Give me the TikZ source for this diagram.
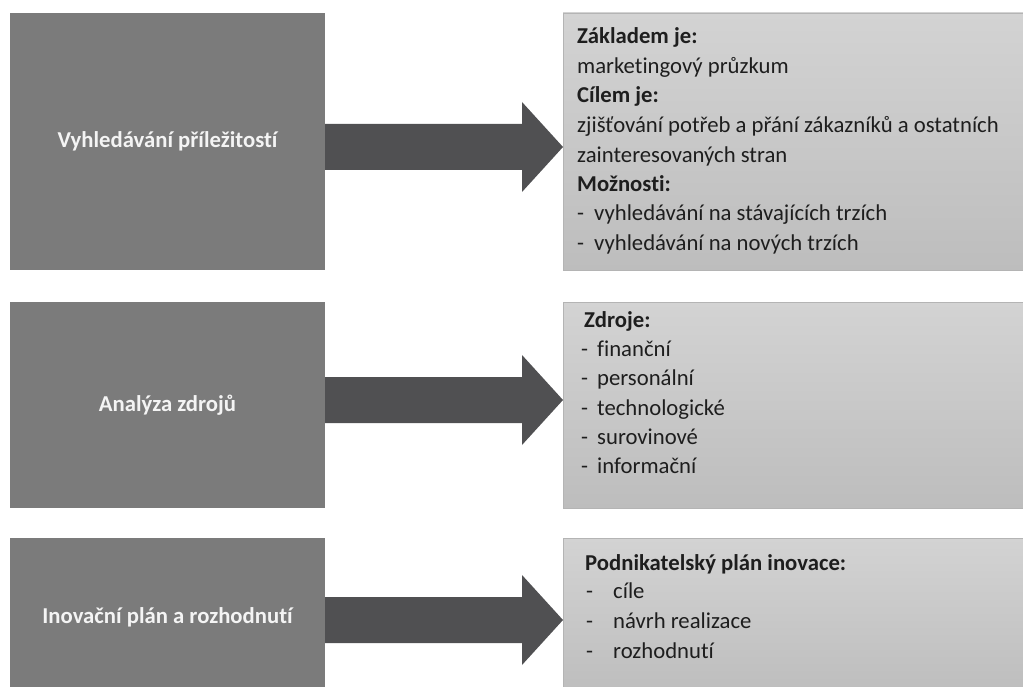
\documentclass[tikz,border=0pt]{standalone}
\usepackage{fontspec}
\setmainfont{Carlito}[Ligatures={NoCommon}]
\usetikzlibrary{calc}

\definecolor{stagefill}{HTML}{7B7B7B}
\definecolor{stageink}{HTML}{F4F4F4}
\definecolor{arrowfill}{HTML}{505052}
\definecolor{notetop}{HTML}{D3D3D3}
\definecolor{notebottom}{HTML}{BDBDBD}
\definecolor{noteedge}{HTML}{B4B4B4}
\definecolor{ink}{HTML}{1E1E1E}

% block arrow from a start point on the left box to a tip on the right box
\newcommand{\fatarrow}[2]{%
  \fill[arrowfill]
    ($(#1)+(0,-23)$) -- ($(#2)+(-41,-23)$) -- ($(#2)+(-41,-45)$) --
    (#2) --
    ($(#2)+(-41,45)$) -- ($(#2)+(-41,23)$) -- ($(#1)+(0,23)$) -- cycle;}

\begin{document}
\begin{tikzpicture}[x=1pt,y=-1pt,
  stage/.style={fill=stagefill, minimum width=315pt, inner sep=0pt, outer sep=0pt,
    text=stageink, font=\bfseries\fontsize{22.7}{27}\selectfont},
  note/.style={top color=notetop, bottom color=notebottom, draw=noteedge,
    line width=0.8pt, minimum width=467pt, inner sep=0pt, outer sep=0pt},
  txt/.style={anchor=base west, inner sep=0pt, text=ink,
    font=\fontsize{22.7}{27}\selectfont},
  hd/.style={txt, font=\bfseries\fontsize{22.7}{27}\selectfont}]

\useasboundingbox (0,0) rectangle (1023,687);
\clip (0,0) rectangle (1023,687);
\fill[white] (0,0) rectangle (1023,687);

% left column: stages
\node[stage, minimum height=257pt] (l1) at (167.5,141.5) {Vyhledávání příležitostí};
\node[stage, minimum height=206pt] (l2) at (167.5,405) {Analýza zdrojů};
\node[stage, minimum height=158pt] (l3) at (167.5,617) {Inovační plán a rozhodnutí};

% right column: detail boxes
\node[note, minimum height=257pt] (r1) at (796.5,141.5) {};
\node[note, minimum height=206pt] (r2) at (796.5,405) {};
\node[note, minimum height=158pt] (r3) at (796.5,617) {};

% arrows between the columns
\coordinate (s1) at (l1.east |- 0,147);  \coordinate (t1) at (r1.west |- 0,147);
\coordinate (s2) at (l2.east |- 0,400);  \coordinate (t2) at (r2.west |- 0,400);
\coordinate (s3) at (l3.east |- 0,620);  \coordinate (t3) at (r3.west |- 0,620);
\fatarrow{s1}{t1}
\fatarrow{s2}{t2}
\fatarrow{s3}{t3}

% texts of the first detail box
\node[hd]  (a1) at (577,44)  {Základem je:};
\node[txt] (a2) at (577,74)  {marketingový průzkum};
\node[hd]  (a3) at (577,103) {Cílem je:};
\node[txt] (a4) at (577,133) {zjišťování potřeb a přání zákazníků a ostatních};
\node[txt] (a5) at (577,163) {zainteresovaných stran};
\node[hd]  (a6) at (577,192) {Možnosti:};
\node[txt] (a7) at (577,221) {-};
\node[txt] (a8) at (594,221) {vyhledávání na stávajících trzích};
\node[txt] (a9) at (577,251) {-};
\node[txt] (a10) at (594,251) {vyhledávání na nových trzích};

% texts of the second detail box
\node[hd]  (b1) at (584,327) {Zdroje:};
\foreach \y/\w [count=\i] in {356/finanční, 385/personální, 415/technologické,
                               444/surovinové, 473/informační} {
  \node[txt] (bd\i) at (581,\y) {-};
  \node[txt] (bt\i) at (597,\y) {\w};
}

% texts of the third detail box
\node[hd]  (c1) at (585,570) {Podnikatelský plán inovace:};
\foreach \y/\w [count=\i] in {598/cíle, 628/návrh realizace, 658/rozhodnutí} {
  \node[txt] (cd\i) at (586,\y) {-};
  \node[txt] (ct\i) at (613,\y) {\w};
}
\end{tikzpicture}
\end{document}
